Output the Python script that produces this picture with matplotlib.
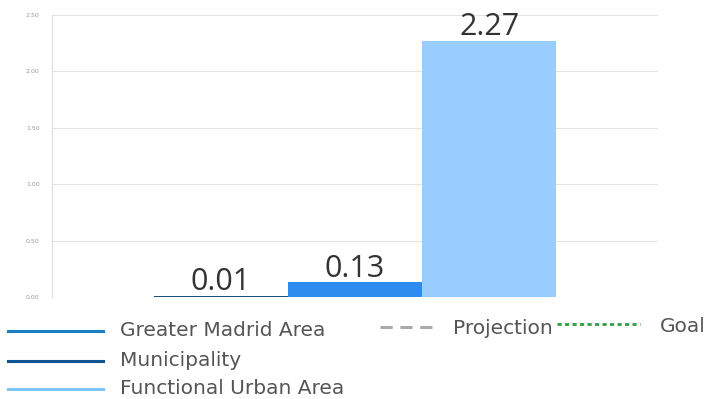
import matplotlib.pyplot as plt
from matplotlib.lines import Line2D

# data
categories = ['Municipality', 'Greater Madrid Area', 'Functional Urban Area']
values = [0.01, 0.13, 2.27]
bar_colors = ['#1f4e79', '#2b8cee', '#99ccff']
y_ticks = [0.0, 0.5, 1.0, 1.5, 2.0, 2.5]

legend_labels = ['Greater Madrid Area', 'Municipality', 'Functional Urban Area']
legend_colors = ['#1a7fc4', '#0d5592', '#7cc4f5']

fig = plt.figure(figsize=(7.07, 3.99), dpi=100)
ax = fig.add_axes([52 / 707, 1 - 297 / 399, 606 / 707, 282 / 399])

x = [-1, 0, 1]
bars = ax.bar(x, values, width=1.0, color=bar_colors, zorder=3)
for b, v in zip(bars, values):
    ax.annotate(f'{v:.2f}', (b.get_x() + b.get_width() / 2, v),
                xytext=(0, 4), textcoords='offset points',
                ha='center', va='baseline', fontsize=22, color='#333333',
                family='Open Sans', zorder=4)

ax.set_xlim(-2.26, 2.26)
ax.set_ylim(0, 2.5)
ax.set_yticks(y_ticks)
ax.set_yticklabels([f'{t:.2f}' for t in y_ticks], fontsize=4.5, color='#999999')
ax.set_xticks([])
ax.tick_params(axis='y', length=0, pad=9)
ax.grid(axis='y', color='#e3e3e3', linewidth=0.8, zorder=0)
for s in ['top', 'right', 'bottom']:
    ax.spines[s].set_visible(False)
ax.spines['left'].set_color('#dddddd')
ax.spines['left'].set_linewidth(0.8)

# legend drawn in figure pixels
def px(xp, yp):
    return xp / 707, 1 - yp / 399

rows = [331, 361, 389]
for lab, col, yp in zip(legend_labels, legend_colors, rows):
    x0, y0 = px(8, yp)
    x1, _ = px(103, yp)
    fig.add_artist(Line2D([x0, x1], [y0, y0], color=col, linewidth=2.2))
    tx, ty = px(120, yp)
    fig.text(tx, ty, lab, fontsize=14.5, color='#555555', va='center', family='DejaVu Sans')

x0, y0 = px(380, 327)
x1, _ = px(438, 327)
fig.add_artist(Line2D([x0, x1], [y0, y0], color='#aaaaaa', linewidth=2.2, linestyle=(0, (4, 2.5))))
tx, ty = px(453, 328)
fig.text(tx, ty, 'Projection', fontsize=14.5, color='#555555', va='center', family='DejaVu Sans')

x0, y0 = px(557, 324)
x1, _ = px(640, 324)
fig.add_artist(Line2D([x0, x1], [y0, y0], color='#2e9e3e', linewidth=2.0, linestyle=(0, (1.5, 1.2))))
tx, ty = px(660, 326)
fig.text(tx, ty, 'Goal', fontsize=14.5, color='#555555', va='center', family='DejaVu Sans')

fig.savefig('out.png', dpi=100)
